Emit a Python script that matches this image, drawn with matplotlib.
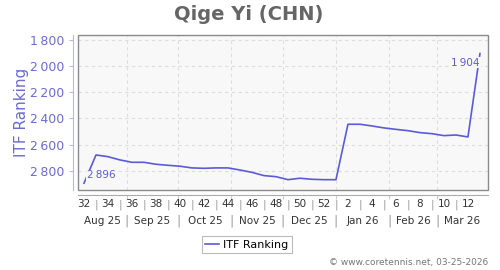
# -*- coding: utf-8 -*-

import matplotlib
matplotlib.use('Agg')
import matplotlib.pyplot as plt
import matplotlib.dates as mdates
from matplotlib.patches import Rectangle
import numpy as np
import pandas as pd

# weekly ranking points (ISO weeks 32/2025 .. 13/2026)
startDate = '2025-08-07'
weeks = [32, 33, 34, 35, 36, 37, 38, 39, 40, 41, 42, 43, 44, 45, 46, 47, 48,
         49, 50, 51, 52, 1, 2, 3, 4, 5, 6, 7, 8, 9, 10, 11, 12, 13]
ranking = [2896, 2680, 2693, 2718, 2736, 2736, 2751, 2759, 2766, 2779, 2782,
           2779, 2779, 2795, 2813, 2838, 2846, 2869, 2858, 2866, 2869, 2869,
           2445, 2445, 2458, 2473, 2484, 2494, 2509, 2517, 2532, 2527, 2542,
           1904]
monthStarts = ['2025-08-01', '2025-09-01', '2025-10-01', '2025-11-01',
               '2025-12-01', '2026-01-01', '2026-02-01', '2026-03-01',
               '2026-04-01']
monthLabels = ['Aug 25', 'Sep 25', 'Oct 25', 'Nov 25', 'Dec 25', 'Jan 26',
               'Feb 26', 'Mar 26']
yTicks = [1800, 2000, 2200, 2400, 2600, 2800]

lineColor = '#5b5bd6'
labelColor = '#6b6bcf'

dates = pd.date_range(startDate, periods=len(ranking), freq='7D')
x = mdates.date2num(dates)
xmin = x[0] - 3.5
xmax = x[-1] + 4.7

fig = plt.figure(figsize=(5, 2.7), dpi=100)
ax = fig.add_axes([78/500, 1-190/270, 410/500, 155/270])
ax.set_facecolor('#f8f8f8')

ax.plot(x, ranking, color=lineColor, lw=1.2, label='ITF Ranking', zorder=3)

ax.set_xlim(xmin, xmax)
ax.set_ylim(2948, 1762)

# frame + offset axis lines
for s in ['top', 'right']:
    ax.spines[s].set_visible(False)
ax.spines['left'].set_position(('outward', 3.6))
ax.spines['bottom'].set_position(('outward', 3.6))
ax.spines['left'].set_color('#b8b8e8')
ax.spines['bottom'].set_color('#aaaaaa')
ax.add_patch(Rectangle((0, 0), 1, 1, transform=ax.transAxes, fill=False,
                       edgecolor='#8a8a8a', lw=1.0, clip_on=False, zorder=4))

ax.set_yticks(yTicks)
ax.set_yticklabels([f'{v:,}'.replace(',', '\u2009') for v in yTicks])
ax.tick_params(axis='y', colors='#b8b8e8', labelcolor=labelColor,
               labelsize=9, length=3, pad=3)
ax.set_ylabel('ITF Ranking', color=labelColor, fontsize=11, labelpad=1)

# month boundaries -> vertical grid and small ticks
mb = mdates.date2num(pd.to_datetime(monthStarts))
inside = [m for m in mb if xmin < m < xmax]
ax.set_xticks(inside)
ax.set_xticklabels([])
ax.tick_params(axis='x', colors='#cccccc', length=3)
for m in inside:
    ax.axvline(m, color='#dddddd', lw=0.8, ls=(0, (3, 3)), zorder=1)
for v in yTicks:
    ax.axhline(v, color='#dddddd', lw=0.8, ls=(0, (3, 3)), zorder=1)

trans = ax.get_xaxis_transform()
# week labels
for i, w in enumerate(weeks):
    if w % 2 == 0:
        ax.text(x[i], -0.093, str(w), transform=trans, ha='center',
                va='center', fontsize=7.5, color='#333333')
    elif 0 < i < len(weeks) - 1:
        ax.text(x[i], -0.093, '|', transform=trans, ha='center',
                va='center', fontsize=8, color='#999999')
# month labels
for k, lab in enumerate(monthLabels):
    a = max(mb[k], xmin)
    b = min(mb[k + 1], xmax)
    ax.text((a + b) / 2, -0.2, lab, transform=trans, ha='center',
            va='center', fontsize=7.5, color='#333333')
for m in inside:
    ax.text(m, -0.2, '|', transform=trans, ha='center', va='center',
            fontsize=9, color='#999999')

# first / last value labels
ax.text(x[0] + 1.5, ranking[0] - 60, f'{ranking[0]:,}'.replace(',', '\u2009'),
        color=lineColor, fontsize=7.5, ha='left', va='center', zorder=5,
        bbox=dict(facecolor='#f8f8f8', edgecolor='none', pad=0.5))
ax.text(x[-1], ranking[-1] + 70, f'{ranking[-1]:,}'.replace(',', '\u2009'),
        color=lineColor, fontsize=7.5, ha='right', va='center', zorder=5,
        bbox=dict(facecolor='#f8f8f8', edgecolor='none', pad=0.5))

fig.suptitle('Qige Yi (CHN)', x=249/500, y=1-15/270, va='center',
             fontsize=14, fontweight='bold', color='#666666')

leg = fig.legend(loc='center', bbox_to_anchor=(247/500, 1-244.5/270),
                 fontsize=8, frameon=True, fancybox=False, handlelength=1.2,
                 borderpad=0.35, handletextpad=0.4, borderaxespad=0)
leg.get_frame().set_edgecolor('#aaaaaa')
leg.get_frame().set_linewidth(0.8)

fig.text(488/500, 1-262/270, '\u00a9 www.coretennis.net, 03-25-2026',
         ha='right', va='center', fontsize=6.5, color='#777777')

fig.savefig('out.png', dpi=100)
